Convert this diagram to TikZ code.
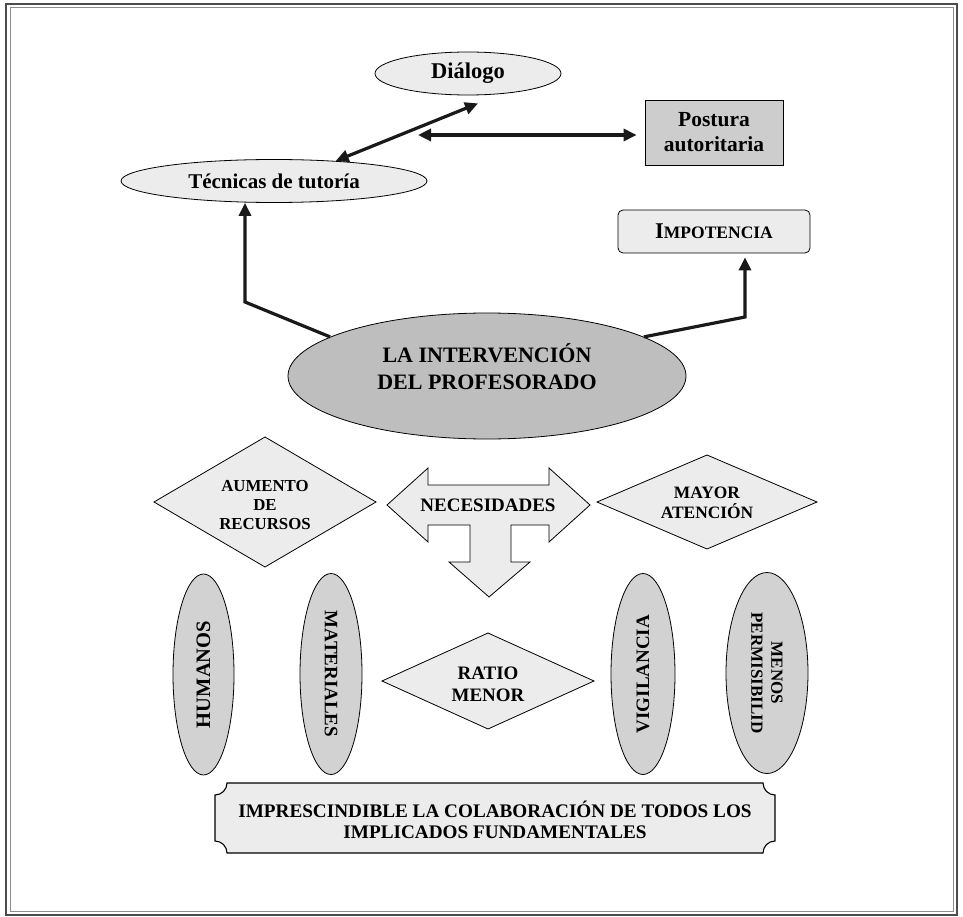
\documentclass[tikz,border=0pt]{standalone}
\usepackage{fontspec}
\setmainfont{Liberation Serif}
\usetikzlibrary{shapes.geometric,arrows.meta,calc}
\definecolor{lightfill}{RGB}{236,236,236}
\definecolor{midfill}{RGB}{210,210,210}
\definecolor{postfill}{RGB}{205,205,205}
\definecolor{mainfill}{RGB}{190,190,190}
\newcommand\myfs[2]{\fontsize{#1}{#2}\selectfont\bfseries}
\begin{document}
\begin{tikzpicture}[x=1pt,y=-1pt,
  ell/.style={ellipse,draw=black,line width=0.8pt,inner sep=0pt},
  shp/.style={draw=black,line width=0.8pt,fill=lightfill,line join=miter},
  lbl/.style={align=center,inner sep=0pt},
  conn/.style={line width=3.2pt,draw=black!90,line join=miter},
  tipa/.style={-{Triangle[length=13pt,width=12pt]}},
  dtipa/.style={{Triangle[length=13pt,width=12pt]}-{Triangle[length=13pt,width=12pt]}},
]
\useasboundingbox (0,0) rectangle (963,917);
\draw[line width=1.6pt,black!70] (6,4) rectangle (957,915);
\draw[line width=1pt,black!45] (10,8) rectangle (953,911);

% top nodes
\node[ell,fill=lightfill,minimum width=186pt,minimum height=43pt,font=\myfs{22.5}{26}] (dia) at (468,73.5) {Diálogo};
\node[ell,fill=lightfill,minimum width=306pt,minimum height=43pt,font=\myfs{21}{24}] (tec) at (274,181) {Técnicas de tutoría};
\node[draw,line width=0.8pt,fill=postfill,minimum width=138pt,minimum height=65pt,align=center,font=\myfs{21.5}{25}] (post) at (714,132.5) {Postura\\autoritaria};
\node[draw,rounded corners=5pt,line width=0.8pt,fill=lightfill,minimum width=192pt,minimum height=43pt,font=\myfs{22.5}{26}] (imp) at (714,231.5) {I{\fontsize{17.5}{20}\selectfont MPOTENCIA}};
\node[ell,fill=mainfill,minimum width=398pt,minimum height=126pt] (main) at (487,376) {};
\node[lbl,font=\myfs{22}{27}] (mainlbl) at (487,367) {LA INTERVENCIÓN\\DEL PROFESORADO};

% shapes of the middle row
\coordinate (aumc) at (265,502);
\draw[shp] ($(aumc)+(-111,0)$) -- ($(aumc)+(0,-65)$) -- ($(aumc)+(111,0)$) -- ($(aumc)+(0,65)$) -- cycle;
\coordinate (mayc) at (707,502);
\draw[shp] ($(mayc)+(-110,0)$) -- ($(mayc)+(0,-47)$) -- ($(mayc)+(110,0)$) -- ($(mayc)+(0,47)$) -- cycle;
\coordinate (ratc) at (488,681);
\draw[shp] ($(ratc)+(-106,0)$) -- ($(ratc)+(0,-48)$) -- ($(ratc)+(106,0)$) -- ($(ratc)+(0,48)$) -- cycle;
\draw[shp] (387,505) -- (428,468) -- (428,485) -- (549,485) -- (549,468) -- (590,505)
  -- (549,542) -- (549,525) -- (511,525) -- (511,562) -- (530,562) -- (489,597)
  -- (449,562) -- (470,562) -- (470,525) -- (428,525) -- (428,542) -- cycle;

\node[lbl,font=\myfs{16.8}{19.3}] (aum) at ($(aumc)+(0,3)$) {AUMENTO\\DE\\RECURSOS};
\node[lbl,font=\myfs{17.4}{20}] (may) at ($(mayc)+(0,1)$) {MAYOR\\ATENCIÓN};
\node[lbl,font=\myfs{19}{22}] (nec) at (488,505) {NECESIDADES};
\node[lbl,font=\myfs{19}{22}] (rat) at ($(ratc)+(0,3)$) {RATIO\\MENOR};

% vertical ellipses
\node[ell,fill=midfill,rotate=90,minimum width=201pt,minimum height=61pt,font=\myfs{20.5}{24}] (hum) at (203.5,674.5) {HUMANOS};
\node[ell,fill=midfill,rotate=-90,minimum width=201pt,minimum height=62pt,font=\myfs{19}{22}] (mat) at (331,674) {MATERIALES};
\node[ell,fill=midfill,rotate=90,minimum width=201pt,minimum height=64pt,font=\myfs{19}{22}] (vig) at (643,674) {VIGILANCIA};
\node[ell,fill=midfill,rotate=-90,minimum width=201pt,minimum height=82pt,align=center,font=\myfs{17}{20}] (men) at (767,673) {MENOS\\PERMISIBILID};

% bottom plaque
\draw[shp,line width=1.1pt] (227,783) -- (763,783) .. controls (763,789.6) and (768.4,795) .. (775,795)
  -- (775,841) .. controls (768.4,841) and (763,846.4) .. (763,853)
  -- (227,853) .. controls (227,846.4) and (221.6,841) .. (215,841)
  -- (215,795) .. controls (221.6,795) and (227,789.6) .. (227,783) -- cycle;
\node[lbl,font=\myfs{19.2}{21}] (pl) at (495,820) {IMPRESCINDIBLE LA COLABORACIÓN DE TODOS LOS\\IMPLICADOS FUNDAMENTALES};

% connectors
\draw[conn,dtipa] (tec.18) -- ($(dia.south)+(10,8)$);
\coordinate (hl) at (418,135);
\draw[conn,dtipa,shorten >=8pt] (hl) -- (hl -| post.west);
\coordinate (lk) at (245,302);
\draw[conn,tipa] (main.166) -- (lk) -- (lk |- tec.south);
\coordinate (rk) at (745,317);
\draw[conn,tipa,shorten >=4pt] (main.14) -- (rk) -- (rk |- imp.south);
\end{tikzpicture}
\end{document}
